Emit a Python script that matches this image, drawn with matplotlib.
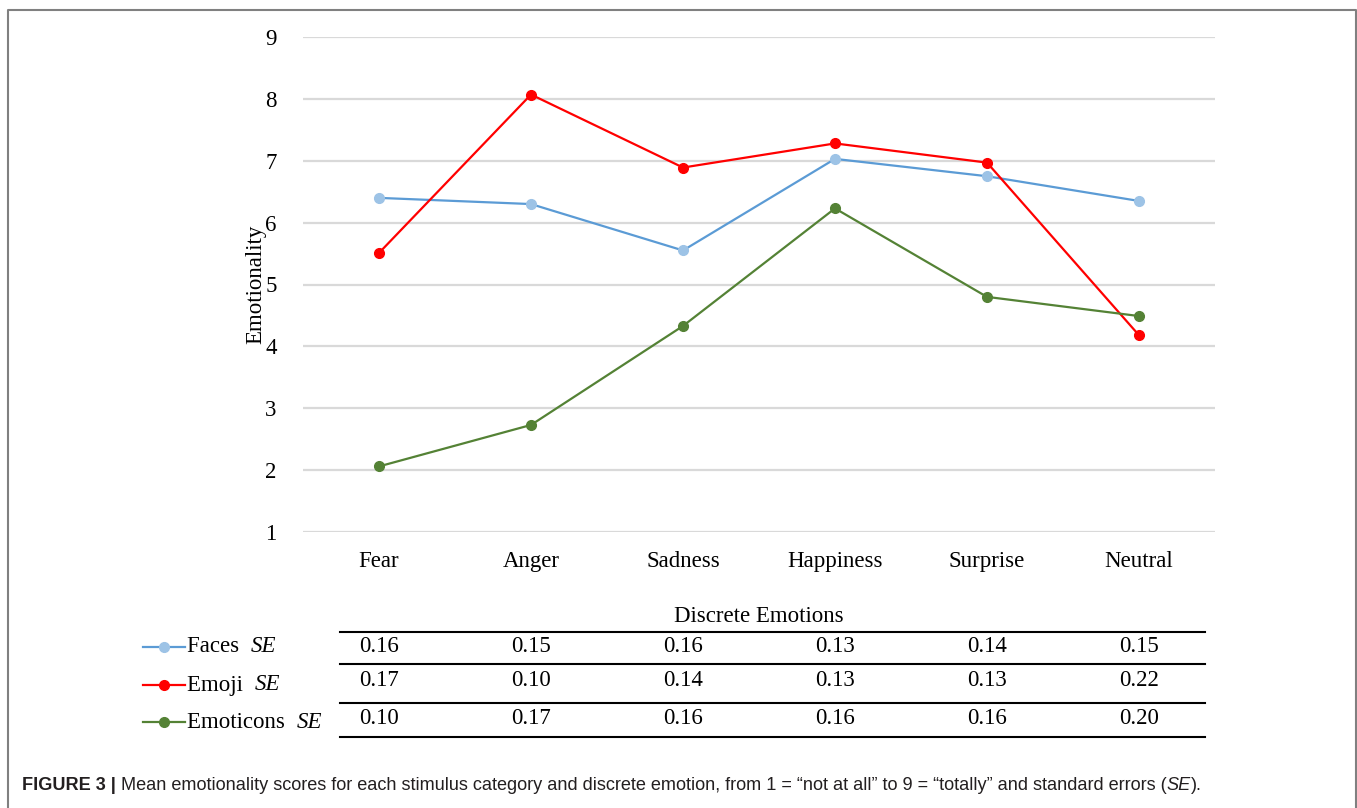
import matplotlib
matplotlib.use('Agg')
import numpy as np
from matplotlib import pyplot as plt
from matplotlib.lines import Line2D
from matplotlib.transforms import blended_transform_factory

emotions = ['Fear', 'Anger', 'Sadness', 'Happiness', 'Surprise', 'Neutral']
faces = [6.40, 6.30, 5.55, 7.03, 6.75, 6.35]
emoji = [5.51, 8.07, 6.89, 7.28, 6.97, 4.18]
emoticons = [2.06, 2.73, 4.33, 6.23, 4.80, 4.49]

faces_se = ['0.16', '0.15', '0.16', '0.13', '0.14', '0.15']
emoji_se = ['0.17', '0.10', '0.14', '0.13', '0.13', '0.22']
emoticons_se = ['0.10', '0.17', '0.16', '0.16', '0.16', '0.20']

series_names = ['Faces', 'Emoji', 'Emoticons']
line_colors = ['#5b9bd5', '#ff0000', '#548235']
marker_colors = ['#9dc3e6', '#ff0000', '#548235']

W, H = 1357, 808
fig = plt.figure(figsize=(W / 100, H / 100), dpi=100)
serif = 'Liberation Serif'
fs = 16.5


def fx(px):
    return px / W


def fy(py):
    return 1 - py / H


ax = fig.add_axes([fx(303), fy(532), fx(1215 - 303), (532 - 37) / H])
x = np.arange(len(emotions))
for vals, lc, mc in zip([faces, emoji, emoticons], line_colors, marker_colors):
    ax.plot(x, vals, color=lc, lw=1.6, marker='o', ms=7, mfc=mc, mec=mc, zorder=3)

ax.set_xlim(-0.5, len(emotions) - 0.5)
ax.set_ylim(1, 9)
ax.set_yticks(range(1, 10))
ax.set_yticklabels([str(v) for v in range(1, 10)], fontfamily=serif, fontsize=fs)
ax.set_xticks(x)
ax.set_xticklabels(emotions, fontfamily=serif, fontsize=fs)
ax.tick_params(length=0, axis='y', pad=19)
ax.tick_params(length=0, axis='x', pad=14)
ax.grid(axis='y', color='#d9d9d9', lw=1.6)
ax.set_axisbelow(True)
for s in ax.spines.values():
    s.set_visible(False)
ax.set_ylabel('Emotionality', fontfamily=serif, fontsize=fs, labelpad=-1)

# table of standard errors under the chart
fig.text(fx(759), fy(617), 'Discrete Emotions', fontfamily=serif, fontsize=fs,
         ha='center', va='center')
for yy in [632, 664, 703, 737]:
    fig.add_artist(Line2D([fx(340), fx(1205)], [fy(yy), fy(yy)], color='black', lw=1.5))

tr = blended_transform_factory(ax.transData, fig.transFigure)
row_y = [647, 680, 718]
for se, ry in zip([faces_se, emoji_se, emoticons_se], row_y):
    for i, v in enumerate(se):
        ax.text(i, fy(ry), v, transform=tr, fontfamily=serif, fontsize=fs,
                ha='center', va='center', clip_on=False)

# legend keys in the table rows
key_y = [647, 685, 722]
for name, lc, mc, ky in zip(series_names, line_colors, marker_colors, key_y):
    fig.add_artist(Line2D([fx(143), fx(185)], [fy(ky), fy(ky)], color=lc, lw=1.6))
    fig.add_artist(Line2D([fx(164)], [fy(ky)], marker='o', ms=7, mfc=mc, mec=mc, color=lc))
    t = fig.text(fx(187), fy(ky), name + '  ', fontfamily=serif, fontsize=fs,
                 ha='left', va='center')
    ax.annotate('SE', xy=(1, 0.5), xycoords=t, fontfamily=serif, fontsize=fs,
                style='italic', ha='left', va='center', annotation_clip=False)

# caption
cap_fs = 13.1
c1 = fig.text(fx(22), fy(790), 'FIGURE 3 | ', fontfamily='Liberation Sans',
              fontsize=cap_fs, fontweight='bold', ha='left', va='baseline', color='#231f20')
c2 = ax.annotate('Mean emotionality scores for each stimulus category and discrete emotion, '
                 'from 1 = \u201cnot at all\u201d to 9 = \u201ctotally\u201d and standard errors (',
                 xy=(1, 0), xycoords=c1, fontfamily='Liberation Sans', fontsize=cap_fs,
                 ha='left', va='bottom', color='#231f20', annotation_clip=False)
c3 = ax.annotate('SE', xy=(1, 0), xycoords=c2, fontfamily='Liberation Sans', fontsize=cap_fs,
                 style='italic', ha='left', va='bottom', color='#231f20', annotation_clip=False)
ax.annotate(').', xy=(1, 0), xycoords=c3, fontfamily='Liberation Sans', fontsize=cap_fs,
            ha='left', va='bottom', color='#231f20', annotation_clip=False)

# frame around the figure
fig.add_artist(Line2D([fx(8), fx(8), fx(1356), fx(1356)], [0, fy(10), fy(10), 0],
                      color='#808080', lw=1.5))

fig.savefig('out.png', dpi=100)
